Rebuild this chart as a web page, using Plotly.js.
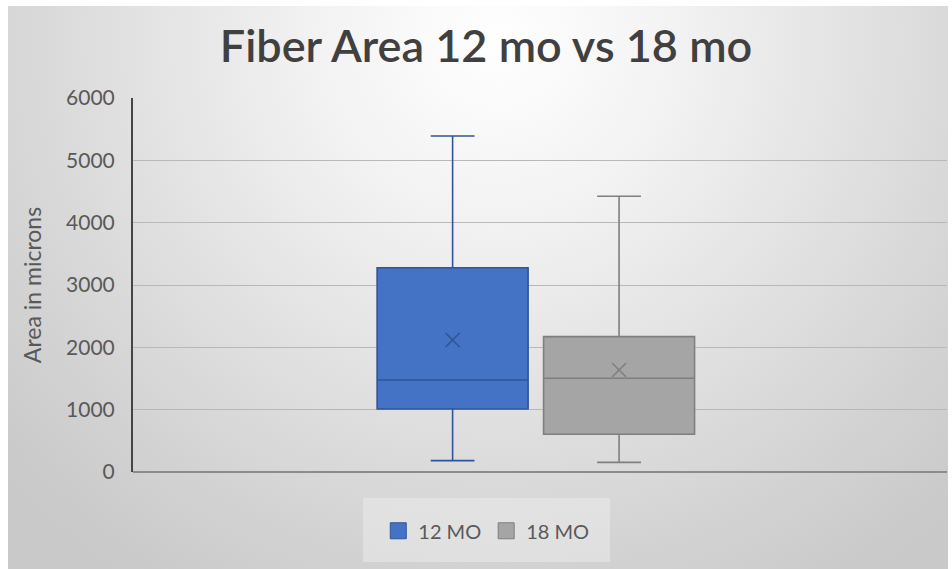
<!DOCTYPE html>
<html>
<head>
<meta charset="utf-8">
<script src="https://cdn.plot.ly/plotly-3.0.1.min.js"></script>
<style>
  html, body { margin: 0; padding: 0; background: #ffffff; }
  #wrap { position: relative; width: 952px; height: 569px; overflow: hidden; }
  #bg {
    position: absolute; left: 8px; top: 6px; width: 940px; height: 563px;
    background: radial-gradient(ellipse 70% 115% at 52% 6%,
      #ffffff 0%, #f2f2f2 28%, #e0e0e0 58%, #d2d2d2 82%, #c9c9c9 100%);
  }
  #chart { position: absolute; left: 0; top: 0; width: 952px; height: 569px; }
</style>
</head>
<body>
<div id="wrap">
  <div id="bg"></div>
  <div id="chart"></div>
</div>
<script>
// Fiber area summary statistics (microns) per age group
const groups      = ['12 MO', '18 MO'];
const lowerFence  = [182, 155];
const q1          = [1010, 605];
const median      = [1476, 1503];
const q3          = [3277, 2171];
const upperFence  = [5390, 4423];
const meanVal     = [2118, 1636];

const yTicks = [0, 1000, 2000, 3000, 4000, 5000, 6000];

// drawing styles
const fills  = ['#4472c4', '#a5a5a5'];
const edges  = ['#2f5597', '#7f7f7f'];
const slot   = [-0.5, 0.5];      // horizontal slot of each box
const boxW   = 0.907;
const font   = 'Lato, "Open Sans", sans-serif';

const traces = [];
groups.forEach((g, i) => {
  traces.push({
    type: 'box',
    name: g,
    legendgroup: g,
    showlegend: false,
    x: [slot[i]],
    q1: [q1[i]], median: [median[i]], q3: [q3[i]],
    lowerfence: [lowerFence[i]], upperfence: [upperFence[i]],
    width: boxW,
    whiskerwidth: 0.29,
    fillcolor: fills[i],
    line: { color: edges[i], width: 1.6 },
    boxpoints: false,
    hoverinfo: 'skip'
  });
});
// mean markers
groups.forEach((g, i) => {
  traces.push({
    type: 'scatter',
    mode: 'markers',
    name: g + ' mean',
    legendgroup: g,
    x: [slot[i]],
    y: [meanVal[i]],
    showlegend: false,
    hoverinfo: 'skip',
    marker: { symbol: 'x-thin-open', size: 14, color: edges[i], line: { color: edges[i], width: 1.6 } }
  });
});
// legend keys: large filled squares in each series colour
groups.forEach((g, i) => {
  traces.push({
    type: 'scatter',
    mode: 'markers',
    name: g,
    legendgroup: g,
    x: [null],
    y: [null],
    hoverinfo: 'skip',
    marker: { symbol: 'square', size: 20, color: fills[i], line: { color: edges[i], width: 1 } }
  });
});

const layout = {
  width: 952, height: 569,
  paper_bgcolor: 'rgba(0,0,0,0)',
  plot_bgcolor: 'rgba(0,0,0,0)',
  margin: { l: 133, r: 5, t: 98, b: 97 },
  font: { family: font, color: '#595959' },
  title: {
    text: 'Fiber Area 12 mo vs 18 mo',
    font: { family: font, size: 45, color: '#404040', weight: 600 },
    x: 0.5105, xanchor: 'center', xref: 'container',
    y: 0.918, yanchor: 'middle', yref: 'container'
  },
  showlegend: true,
  legend: {
    orientation: 'h',
    x: 0.434, xanchor: 'center',
    y: -0.105, yanchor: 'top',
    bgcolor: 'rgba(0,0,0,0)',
    font: { family: font, size: 20, color: '#595959' },
    itemsizing: 'trace'
  },
  shapes: [{
    type: 'rect', xref: 'paper', yref: 'paper',
    x0: (363 - 133) / 814, x1: (610 - 133) / 814,
    y0: -(562 - 472) / 374, y1: -(498 - 472) / 374,
    fillcolor: 'rgba(240,240,240,0.45)', line: { width: 0 }, layer: 'below'
  }],
  xaxis: {
    range: [-2.42, 2.47],
    showticklabels: false, ticks: '',
    showgrid: false, zeroline: false,
    showline: false
  },
  yaxis: {
    range: [0, 6000],
    tickvals: yTicks,
    ticktext: yTicks.map(String),
    tickfont: { family: font, size: 21, color: '#595959' },
    ticks: '', ticklen: 0,
    ticklabelstandoff: 12,
    showgrid: true, gridcolor: '#b8b8b8', gridwidth: 1,
    zeroline: true, zerolinecolor: '#8c8c8c', zerolinewidth: 1.5,
    showline: true, linecolor: '#454545', linewidth: 2,
    title: {
      text: 'Area in microns',
      font: { family: font, size: 23, color: '#595959' },
      standoff: 18
    }
  }
};

Plotly.newPlot('chart', traces, layout, { staticPlot: true, displayModeBar: false });
</script>
</body>
</html>
